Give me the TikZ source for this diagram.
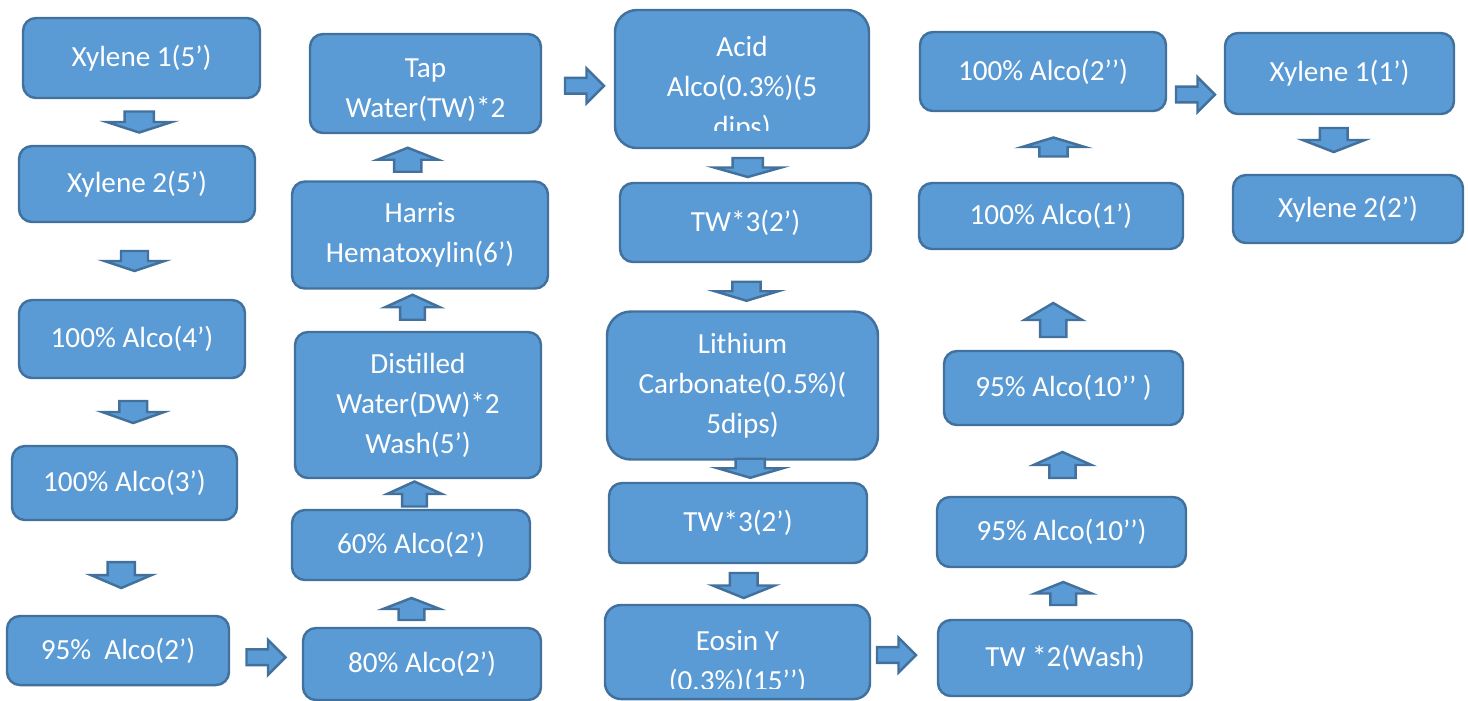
\documentclass[tikz,border=0pt]{standalone}
\usepackage{fontspec}
\setmainfont{Carlito}
\usetikzlibrary{calc}

\definecolor{boxfill}{HTML}{5B9BD5}
\definecolor{boxline}{HTML}{41719C}

\begin{document}
\begin{tikzpicture}[
	stage/.style 2 args={draw=boxline, fill=boxfill, line width=0.7pt, rounded corners=0.13cm,
		minimum width=#1cm, minimum height=#2cm, inner sep=0pt,
		text=white, align=center, font=\fontsize{8.3}{11.4}\selectfont},
	stagetext/.style={inner sep=0pt, text=white, align=center, font=\fontsize{8.3}{11.4}\selectfont},
	flowarrow/.style={draw=boxline, fill=boxfill, line width=0.7pt},
	% block arrow pointing along +x, args: length, head width
	pics/flow/.style 2 args={code={
		\pgfmathsetmacro\hl{0.5*min(#1,#2)}
		\draw[flowarrow] (-#1/2,-0.225*#2) -- ({#1/2-\hl},-0.225*#2) -- ({#1/2-\hl},-#2/2)
			-- (#1/2,0) -- ({#1/2-\hl},#2/2) -- ({#1/2-\hl},0.225*#2) -- (-#1/2,0.225*#2) -- cycle;
	}}]

	\useasboundingbox (0,0) rectangle (14.68,-7.00);

	% first column: dewaxing and down to 95%
	\node[stage={2.37}{0.80}] (x1) at (1.415,-0.58) {Xylene 1(5’)};
	\node[stage={2.36}{0.76}] (x2) at (1.37,-1.84) {Xylene 2(5’)};
	\node[stage={2.26}{0.78}] (a4) at (1.32,-3.39) {100\% Alco(4’)};
	\node[stage={2.25}{0.74}] (a3) at (1.245,-4.83) {100\% Alco(3’)};
	\node[stage={2.22}{0.69}] (a2) at (1.18,-6.505) {95\%\ \ Alco(2’)};

	% second column, going up
	\node[stage={2.38}{0.72}] (e80) at (4.22,-6.64) {80\% Alco(2’)};
	\node[stage={2.38}{0.70}] (s60) at (4.11,-5.45) {60\% Alco(2’)};
	\node[stage={2.46}{1.46}] (dw) at (4.18,-4.05) {Distilled\\Water(DW)*2\\Wash(5’)};
	\node[stage={2.56}{1.07}] (harris) at (4.20,-2.35) {Harris\\Hematoxylin(6’)};
	\node[stage={2.31}{0.99}] (tap) at (4.255,-0.835) {};
	\node[stagetext] (taptext) at ($(tap)+(0,-0.065)$) {Tap\\Water(TW)*2};

	% third column
	\node[stage={2.54}{1.38}, rounded corners=0.22cm] (acid) at (7.42,-0.79) {};
	\begin{scope}
		\clip (acid.north west) rectangle (acid.east |- 0,-1.30);
		\node[stagetext] (acidtext) at ($(acid)+(0,-0.095)$) {Acid\\Alco(0.3\%)(5\\dips)};
	\end{scope}
	\node[stage={2.51}{0.79}] (tw1) at (7.455,-2.225) {TW*3(2’)};
	\node[stage={2.71}{1.48}, rounded corners=0.24cm] (lith) at (7.425,-3.855) {Lithium\\Carbonate(0.5\%)(\\5dips)};
	\node[stage={2.58}{0.80}] (tw2) at (7.38,-5.23) {TW*3(2’)};
	\node[stage={2.65}{0.94}, rounded corners=0.16cm] (eosin) at (7.375,-6.52) {};
	\begin{scope}
		\clip (eosin.north west) rectangle (eosin.east |- 0,-6.88);
		\node[stagetext] (eosintext) at ($(eosin)+(0,-0.10)$) {Eosin Y\\(0.3\%)(15’’)};
	\end{scope}

	% fourth column, going up
	\node[stage={2.54}{0.76}] (tw3) at (10.65,-6.58) {TW *2(Wash)};
	\node[stage={2.49}{0.70}] (a10b) at (10.615,-5.32) {95\% Alco(10’’)};
	\node[stage={2.39}{0.74}] (a10a) at (10.635,-3.88) {95\% Alco(10’’ )};
	\node[stage={2.64}{0.66}] (a1) at (10.51,-2.16) {100\% Alco(1’)};
	\node[stage={2.46}{0.79}] (a2b) at (10.43,-0.715) {100\% Alco(2’’)};

	% clearing
	\node[stage={2.29}{0.81}] (y1) at (13.395,-0.735) {Xylene 1(1’)};
	\node[stage={2.30}{0.68}] (y2) at (13.48,-2.09) {Xylene 2(2’)};

	% block arrows between the steps
	\pic[rotate=-90] at ($(x1.south)!.5!(x2.north)$) {flow={0.21}{0.65}};
	\pic[rotate=-90] at ($(x2.south)!.5!(a4.north)$) {flow={0.20}{0.60}};
	\pic[rotate=-90] at ($(a4.south)!.5!(a3.north)+(0.05,0)$) {flow={0.22}{0.62}};
	\pic[rotate=-90] at ($(a3.south)!.5!(a2.north)+(0,-0.07)$) {flow={0.26}{0.61}};
	\pic at ($(a2.east)!.5!(e80.west)$) {flow={0.39}{0.35}};

	\pic[rotate=90] at ($(e80.north)!.5!(s60.south)+(-0.05,-0.05)$) {flow={0.22}{0.57}};
	\pic[rotate=90] at ($(s60.north)!.5!(dw.south)$) {flow={0.25}{0.55}};
	\pic[rotate=90] at ($(dw.north)!.5!(harris.south)+(-0.065,0.03)$) {flow={0.25}{0.55}};
	\pic[rotate=90] at ($(harris.north)!.5!(tap.south)+(-0.15,-0.025)$) {flow={0.24}{0.61}};
	\pic at ($(tap.east)!.5!(acid.west)+(0.065,-0.045)$) {flow={0.39}{0.35}};

	\pic[rotate=-90] at ($(acid.south)!.5!(tw1.north)+(0.04,-0.02)$) {flow={0.19}{0.67}};
	\pic[rotate=-90] at ($(tw1.south)!.5!(lith.north)+(0.025,-0.045)$) {flow={0.19}{0.63}};
	\pic[rotate=-90] at ($(lith.south)!.5!(tw2.north)+(0.10,0.03)$) {flow={0.19}{0.65}};
	\pic[rotate=-90] at ($(tw2.south)!.5!(eosin.north)+(0.06,-0.015)$) {flow={0.25}{0.62}};
	\pic at ($(eosin.east)!.5!(tw3.west)+(-0.075,0)$) {flow={0.39}{0.35}};

	\pic[rotate=90] at ($(tw3.north)!.5!(a10b.south)$) {flow={0.23}{0.57}};
	\pic[rotate=90] at ($(a10b.north)!.5!(a10a.south)+(0,-0.04)$) {flow={0.26}{0.58}};
	\pic[rotate=90] at ($(a10a.north)!.5!(a1.south)+(-0.04,-0.2)$) {flow={0.34}{0.58}};
	\pic[rotate=90] at ($(a1.north)!.5!(a2b.south)+(0.065,0)$) {flow={0.19}{0.63}};
	\pic at ($(a2b.east)!.5!(y1.west)+(0,-0.22)$) {flow={0.39}{0.35}};

	\pic[rotate=-90] at ($(y1.south)!.5!(y2.north)+(-0.1,0.045)$) {flow={0.24}{0.62}};

\end{tikzpicture}
\end{document}
